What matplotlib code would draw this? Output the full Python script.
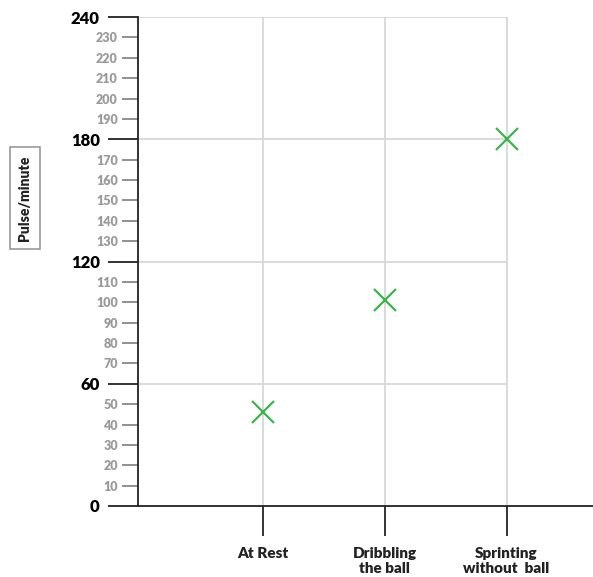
import matplotlib.pyplot as plt
import numpy as np

activities = ["At Rest", "Dribbling\nthe ball", "Sprinting\nwithout  ball"]
pulse = [46, 101, 180]
major_ticks = [0, 60, 120, 180, 240]
minor_ticks = [v for v in range(10, 240, 10) if v % 60 != 0]

plt.rcParams['font.family'] = ['Lato', 'DejaVu Sans']

fig = plt.figure(figsize=(5.93, 5.77), dpi=100)
ax = fig.add_axes([138 / 593, 1 - 506 / 577, 1 - 138 / 593, (506 - 17) / 577])

x = np.arange(1, len(activities) + 1)
ax.set_xlim(-0.025, 3.71)
ax.set_ylim(0, 240)

# grid: horizontal lines stop at the last category, vertical go to the top
grid_col = '#d4d4d4'
ax.hlines(major_ticks[1:], -0.025, x[-1], color=grid_col, lw=1.2, zorder=1)
ax.vlines(x, 0, 240, color=grid_col, lw=1.2, zorder=1)

ax.plot(x, pulse, linestyle='none', marker='x', color='#3db44a',
        markersize=16, markeredgewidth=1.6, zorder=3, clip_on=False)

for s in ['top', 'right']:
    ax.spines[s].set_visible(False)
for s in ['left', 'bottom']:
    ax.spines[s].set_color('#222222')
    ax.spines[s].set_linewidth(1.3)

ax.set_yticks(major_ticks)
ax.set_yticklabels([str(v) for v in major_ticks], fontsize=12, fontweight='heavy')
ax.set_yticks(minor_ticks, minor=True)
ax.set_yticklabels([str(v) for v in minor_ticks], minor=True, fontsize=9,
                   fontweight='heavy', color='#9a9a9a')
ax.tick_params(axis='y', which='major', length=21.6, width=1.3, color='#222222', pad=6)
ax.tick_params(axis='y', which='minor', length=11.5, width=1.3, color='#888888', pad=3)

ax.set_xticks(x)
ax.set_xticklabels(activities, fontsize=11, fontweight='heavy', color='#222222',
                   linespacing=1.15)
ax.tick_params(axis='x', length=21.6, width=1.3, color='#222222', pad=8)

fig.text(25 / 593, 1 - 198 / 577, "Pulse/minute", rotation=90, ha='center', va='center',
         fontsize=10, fontweight='heavy', color='#222222',
         bbox=dict(boxstyle='square,pad=0.6', facecolor='white', edgecolor='#999999', lw=1.2))

fig.savefig("out.png", dpi=100)
